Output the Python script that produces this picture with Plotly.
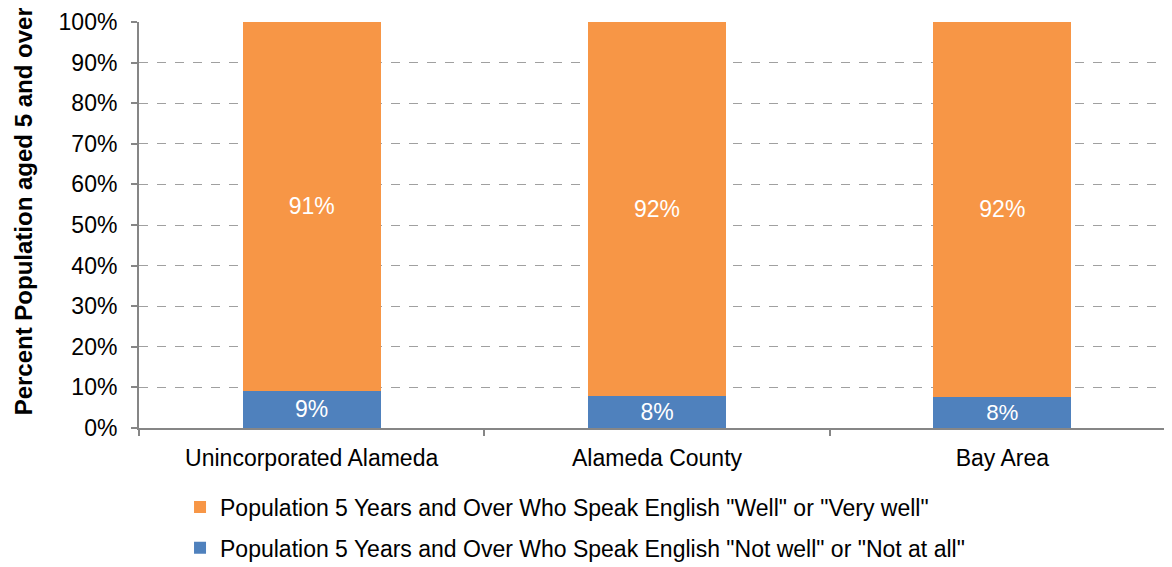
import plotly.graph_objects as go

categories = ["Unincorporated Alameda", "Alameda County", "Bay Area"]
not_well = [9.2, 8.0, 7.7]
well = [90.8, 92.0, 92.3]
name_not_well = 'Population 5 Years and Over Who Speak English "Not well" or "Not at all"'
name_well = 'Population 5 Years and Over Who Speak English "Well" or "Very well"'
y_ticks = [0, 10, 20, 30, 40, 50, 60, 70, 80, 90, 100]
y_title = "Percent Population aged 5 and over"

FONT = "Liberation Sans, Arial, sans-serif"
FS = 23

fig = go.Figure()
fig.add_trace(go.Bar(
    x=categories, y=not_well, name=name_not_well,
    marker=dict(color="#4F81BD", line=dict(width=0)),
    text=[f"{round(v)}%" for v in not_well], textposition="inside",
    insidetextanchor="middle", textangle=0,
    textfont=dict(color="white", size=FS, family=FONT),
    legendgroup="b", legendrank=2,
))
fig.add_trace(go.Bar(
    x=categories, y=well, name=name_well,
    marker=dict(color="#F79646", line=dict(width=0)),
    text=[f"{round(v)}%" for v in well], textposition="inside",
    insidetextanchor="middle", textangle=0,
    textfont=dict(color="white", size=FS, family=FONT),
    legendgroup="a", legendrank=1,
))

# page body has an 8px default margin, so the figure is sized/offset to compensate
fig.update_layout(
    width=1167, height=559,
    barmode="stack", bargap=0.6,
    plot_bgcolor="white", paper_bgcolor="white",
    margin=dict(l=131, r=0, t=14, b=139),
    font=dict(family=FONT, size=FS, color="black"),
    legend=dict(
        orientation="v", traceorder="grouped",
        x=0.0396, xanchor="left",
        yref="container", y=0.1458, yanchor="top",
        font=dict(size=FS, family=FONT), tracegroupgap=8,
        bgcolor="rgba(0,0,0,0)",
    ),
    showlegend=True,
    annotations=[dict(
        text=f"<b>{y_title}</b>", textangle=-90,
        xref="paper", yref="paper", x=-0.1262, y=0.533,
        xanchor="left", yanchor="middle", showarrow=False,
        font=dict(size=24, family=FONT, color="black"),
    )],
)
fig.update_yaxes(
    range=[0, 100], tickvals=y_ticks, ticktext=[f"{v}%" for v in y_ticks],
    showgrid=True, gridcolor="#A0A0A0", griddash="dash", gridwidth=1,
    showline=True, linecolor="#868686", linewidth=2,
    ticks="outside", ticklen=6, tickcolor="#868686", tickwidth=2,
    tickfont=dict(size=FS), zeroline=False, automargin=False,
    ticklabelstandoff=9,
)
fig.update_xaxes(
    showline=True, linecolor="#868686", linewidth=2,
    ticks="outside", tickson="boundaries", ticklen=6, tickcolor="#868686", tickwidth=2,
    tickfont=dict(size=FS), showgrid=False, automargin=False,
    ticklabelstandoff=8,
)

fig.write_html("out.html")
